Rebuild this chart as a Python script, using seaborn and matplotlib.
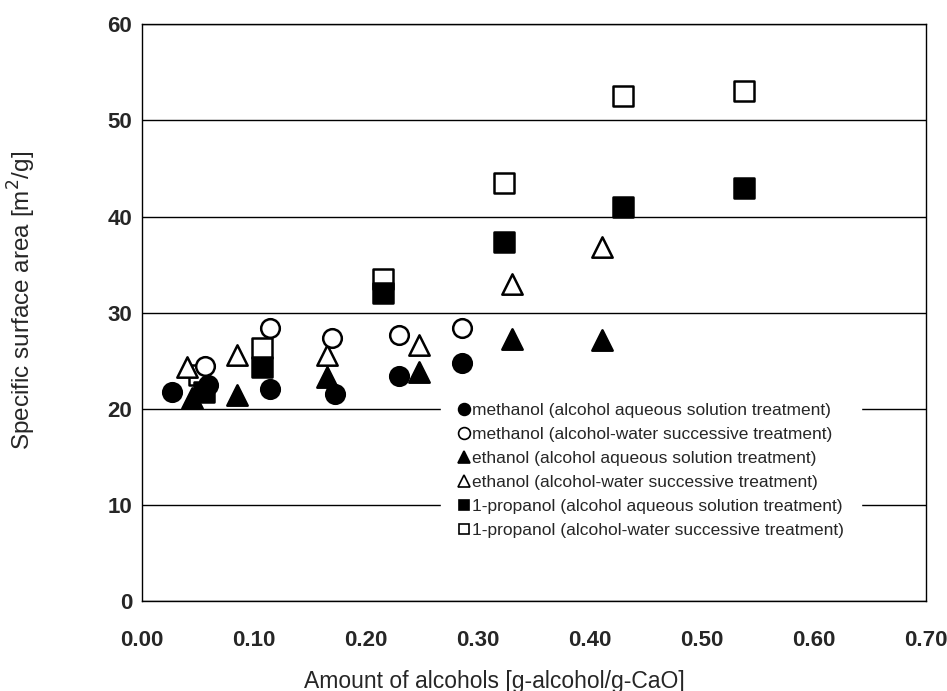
import matplotlib
matplotlib.use("Agg")
import matplotlib.pyplot as plt
import seaborn as sns
import pandas as pd

# amount of alcohol [g-alcohol/g-CaO] and specific surface area [m2/g]
meoh_aq_x = [0.027, 0.059, 0.114, 0.172, 0.229, 0.286]
meoh_aq_y = [21.8, 22.5, 22.1, 21.5, 23.4, 24.8]
meoh_suc_x = [0.056, 0.114, 0.170, 0.229, 0.286]
meoh_suc_y = [24.5, 28.4, 27.4, 27.7, 28.4]
etoh_aq_x = [0.045, 0.085, 0.165, 0.247, 0.330, 0.411]
etoh_aq_y = [21.1, 21.4, 23.3, 23.8, 27.3, 27.2]
etoh_suc_x = [0.040, 0.085, 0.165, 0.247, 0.330, 0.411]
etoh_suc_y = [24.4, 25.6, 25.6, 26.6, 33.0, 36.8]
prop_aq_x = [0.055, 0.107, 0.215, 0.323, 0.429, 0.537]
prop_aq_y = [21.7, 24.4, 32.0, 37.4, 41.0, 43.0]
prop_suc_x = [0.051, 0.107, 0.215, 0.323, 0.429, 0.537]
prop_suc_y = [23.5, 26.3, 33.5, 43.5, 52.5, 53.1]

labels = [
    "methanol (alcohol aqueous solution treatment)",
    "methanol (alcohol-water successive treatment)",
    "ethanol (alcohol aqueous solution treatment)",
    "ethanol (alcohol-water successive treatment)",
    "1-propanol (alcohol aqueous solution treatment)",
    "1-propanol (alcohol-water successive treatment)",
]

series = [
    (meoh_aq_x, meoh_aq_y, "o", True),
    (meoh_suc_x, meoh_suc_y, "o", False),
    (etoh_aq_x, etoh_aq_y, "^", True),
    (etoh_suc_x, etoh_suc_y, "^", False),
    (prop_aq_x, prop_aq_y, "s", True),
    (prop_suc_x, prop_suc_y, "s", False),
]
sizes = {"o": 180, "^": 215, "s": 200}
leg_sizes = {"o": 8.5, "^": 8.5, "s": 7.5}

sns.set_style("white")
plt.rcParams['font.family'] = ['Liberation Sans', 'DejaVu Sans']

fig = plt.figure(figsize=(9.47, 6.91), dpi=100)
ax = fig.add_axes([0.150, 0.130, 0.828, 0.835])

# open markers first, filled ones on top
order = [5, 3, 1, 4, 2, 0]
handles = {}
for i in order:
    x, y, m, filled = series[i]
    df = pd.DataFrame({"x": x, "y": y})
    sns.scatterplot(data=df, x="x", y="y", marker=m, s=sizes[m],
                    facecolor="black" if filled else "white",
                    edgecolor="black", linewidth=1.8, ax=ax, zorder=3)
    handles[i] = plt.Line2D([], [], linestyle="none", marker=m, markersize=leg_sizes[m],
                            markerfacecolor="black" if filled else "white",
                            markeredgecolor="black", markeredgewidth=1.2)

ax.set_xlim(0, 0.70)
ax.set_ylim(0, 60)
ax.set_xticks([i / 10 for i in range(8)])
ax.set_xticklabels([f"{i / 10:.2f}" for i in range(8)])
ax.set_yticks(range(0, 61, 10))
ax.yaxis.grid(True, color="black", linewidth=1.0)
ax.set_axisbelow(True)
ax.tick_params(axis="x", direction="in", length=5, width=1, pad=21, labelsize=16)
ax.tick_params(axis="y", length=0, pad=7, labelsize=16)
for lab in ax.get_xticklabels() + ax.get_yticklabels():
    lab.set_fontweight("bold")
for sp in ax.spines.values():
    sp.set_color("black")
    sp.set_linewidth(1.0)

ax.set_xlabel("Amount of alcohols [g-alcohol/g-CaO]", fontsize=16.5)
ax.set_ylabel("Specific surface area [m$^2$/g]", fontsize=17.5)
ax.xaxis.set_label_coords(0.449, -0.119)
ax.yaxis.set_label_coords(-0.133, 0.522)

leg = ax.legend([handles[i] for i in range(6)], labels, loc="upper left",
                bbox_to_anchor=(0.370, 0.388), fontsize=12.5, frameon=True,
                handlelength=0.7, handletextpad=0.1, labelspacing=0.5,
                borderpad=1.0, fancybox=False)
leg.get_frame().set_edgecolor("white")
leg.get_frame().set_facecolor("white")
leg.get_frame().set_alpha(1)
leg.set_zorder(5)

fig.savefig("out.png", dpi=100)
